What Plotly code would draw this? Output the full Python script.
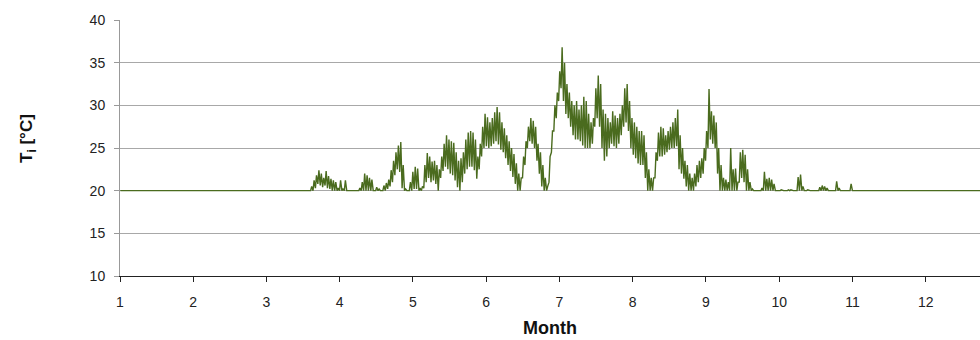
import plotly.graph_objects as go

# ---------------- data ----------------
DAYS_PER_MONTH = 365 / 12
year_days = 365
setpoint = 20.0            # indoor temperature outside the active period
first_active_day = 79      # day-of-year of first entry below

# daily maximum indoor temperature T_i [°C], days 79 .. 304
t_max = [
    20.5, 21.2, 21.8, 22.4, 22.0, 21.5, 22.3, 21.7, 21.4, 21.2,
    21.0, 20.3, 21.2, 20.2, 21.2, 20.0, 20.0, 20.0, 20.0, 20.0,
    20.3, 21.0, 22.0, 21.8, 21.5, 21.3, 20.0, 20.4, 20.2, 20.0,
    20.6, 20.9, 21.3, 22.4, 23.5, 24.5, 25.3, 25.7, 23.0, 20.2,
    20.0, 21.0, 22.2, 22.8, 22.6, 20.3, 20.5, 23.0, 24.4, 24.0,
    23.4, 23.5, 23.0, 22.5, 24.0, 25.5, 26.5, 26.0, 25.8, 25.6,
    24.5, 23.5, 23.8, 24.5, 26.0, 26.8, 27.0, 26.8, 26.0, 24.0,
    25.5, 27.5, 29.0, 28.6, 28.0, 28.5, 29.2, 29.8, 29.2, 28.0,
    27.3, 26.5, 25.8, 25.0, 24.3, 23.2, 22.0, 21.5, 24.0, 25.8,
    27.5, 28.5, 28.2, 27.5, 25.5, 24.5, 23.0, 21.5, 20.5, 24.0,
    27.0, 30.0, 31.5, 34.0, 36.8, 35.0, 32.5, 31.5, 30.5, 30.0,
    30.5, 29.5, 30.0, 31.0, 30.5, 29.0, 28.0, 28.5, 32.0, 33.5,
    32.5, 29.5, 29.0, 28.5, 28.0, 29.3, 28.8, 28.5, 29.0, 30.0,
    32.0, 32.5, 30.5, 28.5, 28.0, 27.5, 27.0, 27.0, 26.5, 24.5,
    22.5, 21.5, 21.5, 24.5, 26.8, 27.5, 27.3, 26.5, 27.0, 27.5,
    28.0, 28.5, 29.5, 26.5, 25.0, 23.5, 23.0, 22.0, 21.5, 22.0,
    23.0, 23.5, 23.8, 25.0, 27.0, 31.9, 29.3, 28.8, 28.0, 25.0,
    23.0, 21.5, 21.3, 21.0, 25.0, 22.5, 22.6, 21.0, 24.5, 24.8,
    24.2, 22.5, 21.0, 20.2, 20.0, 20.0, 20.0, 20.3, 22.2, 21.4,
    21.5, 21.3, 20.8, 20.0, 20.0, 20.1, 20.0, 20.0, 20.1, 20.1,
    20.0, 20.0, 21.6, 21.9, 20.5, 20.0, 20.1, 20.0, 20.0, 20.0,
    20.0, 20.4, 20.6, 20.5, 20.3, 20.0, 20.0, 20.0, 21.1, 20.3,
    20.0, 20.0, 20.0, 20.0, 20.8, 20.0,
]

# daily minimum indoor temperature T_i [°C], days 79 .. 304
t_min = [
    20.0, 20.0, 20.3, 20.8, 20.6, 20.4, 20.6, 20.3, 20.2, 20.0,
    20.0, 20.0, 20.0, 20.0, 20.0, 20.0, 20.0, 20.0, 20.0, 20.0,
    20.0, 20.0, 20.0, 20.0, 20.0, 20.0, 20.0, 20.0, 20.0, 20.0,
    20.0, 20.0, 20.2, 20.5, 21.0, 21.8, 22.5, 22.2, 20.3, 20.0,
    20.0, 20.0, 20.0, 20.2, 20.2, 20.0, 20.0, 20.3, 21.0, 21.5,
    21.0, 21.2, 20.8, 20.0, 21.5, 22.3, 22.8, 22.5, 22.0, 21.8,
    21.2, 20.4, 20.0, 21.0, 22.0, 22.5, 22.8, 22.8, 22.4, 21.4,
    22.5, 24.0, 25.0, 25.2, 25.0, 25.2, 25.5, 25.8, 25.4, 24.8,
    24.5, 23.8, 23.0, 22.3, 21.6, 20.8, 20.0, 20.0, 21.5, 23.0,
    25.0, 25.8, 25.5, 25.0, 23.5, 22.0, 20.5, 20.0, 20.0, 21.0,
    24.5, 27.0, 28.5, 30.5, 32.0, 30.5, 29.0, 28.5, 27.5, 26.5,
    26.0, 26.0, 25.8, 25.3, 25.0, 25.0, 25.0, 25.5, 27.5, 28.5,
    27.5, 25.0, 23.5, 24.0, 25.0, 25.5, 25.2, 25.0, 25.5, 26.5,
    27.5, 28.0, 27.0, 25.0, 24.2, 23.8, 23.2, 23.0, 23.0, 21.5,
    20.0, 20.0, 20.0, 21.5, 23.5, 24.0, 24.0, 24.2, 24.5, 24.8,
    25.0, 25.0, 25.2, 22.5, 22.0, 21.4, 20.5, 20.0, 20.0, 20.0,
    20.5, 21.0, 21.5, 22.0, 23.5, 25.0, 26.0, 25.5, 25.0, 22.0,
    20.0, 20.0, 20.0, 20.0, 20.0, 20.0, 20.0, 20.0, 21.0, 21.5,
    21.0, 20.0, 20.0, 20.0, 20.0, 20.0, 20.0, 20.0, 20.0, 20.0,
    20.0, 20.0, 20.0, 20.0, 20.0, 20.0, 20.0, 20.0, 20.0, 20.0,
    20.0, 20.0, 20.0, 20.0, 20.0, 20.0, 20.0, 20.0, 20.0, 20.0,
    20.0, 20.0, 20.0, 20.0, 20.0, 20.0, 20.0, 20.0, 20.0, 20.0,
    20.0, 20.0, 20.0, 20.0, 20.0, 20.0,
]

month_ticks = [1, 2, 3, 4, 5, 6, 7, 8, 9, 10, 11, 12]
temp_ticks = [10, 15, 20, 25, 30, 35, 40]

# ---------------- build the series (min / max within each day) ----------------
xs, ys = [], []
for d in range(year_days):
    i = d - first_active_day
    if 0 <= i < len(t_max):
        lo, hi = t_min[i], t_max[i]
    else:
        lo = hi = setpoint
    xs += [1 + (d + 0.15) / DAYS_PER_MONTH, 1 + (d + 0.6) / DAYS_PER_MONTH]
    ys += [lo, hi]
xs.append(1 + year_days / DAYS_PER_MONTH)
ys.append(setpoint)

FONT = "Liberation Sans, Arial, sans-serif"
LINE = "#4a6b1e"

fig = go.Figure()
fig.add_trace(go.Scatter(
    x=xs, y=ys, mode="lines",
    line=dict(color=LINE, width=1.4),
    hoverinfo="skip", showlegend=False,
))

fig.update_layout(
    width=980, height=340,
    margin=dict(l=120, r=0, t=20, b=64),
    paper_bgcolor="white", plot_bgcolor="white",
    font=dict(family=FONT, size=14, color="#222"),
    xaxis=dict(
        range=[1, 12.741],
        tickmode="array", tickvals=month_ticks,
        ticktext=[str(m) for m in month_ticks],
        showgrid=False, zeroline=False,
        showline=True, linecolor="#222", linewidth=1,
        ticks="outside", ticklen=5, tickcolor="#222",
        ticklabelstandoff=8,
        tickfont=dict(family=FONT, size=14, color="#222"),
    ),
    yaxis=dict(
        range=[10, 40],
        tickmode="array", tickvals=temp_ticks,
        showgrid=True, gridcolor="#a8a8a8", gridwidth=1,
        zeroline=False,
        showline=True, linecolor="#999", linewidth=1,
        ticks="outside", ticklen=5, tickcolor="#999",
        ticklabelstandoff=6,
        tickfont=dict(family=FONT, size=14, color="#222"),
    ),
    annotations=[
        dict(text="<b>Month</b>", xref="paper", yref="paper",
             x=0.5, y=-52 / 256, xanchor="center", yanchor="middle",
             showarrow=False, font=dict(family=FONT, size=18, color="#111")),
        dict(text="<b>T<sub>i</sub> [°C]</b>", xref="paper", yref="paper",
             x=(28 - 120) / 860, y=(276 - 139) / 256,
             xanchor="center", yanchor="middle", textangle=-90,
             showarrow=False, font=dict(family=FONT, size=17, color="#111")),
    ],
)

fig.write_html(
    "out.html",
    config={"displayModeBar": False},
    post_script="document.body.style.margin='0';document.body.style.overflow='hidden';",
)
